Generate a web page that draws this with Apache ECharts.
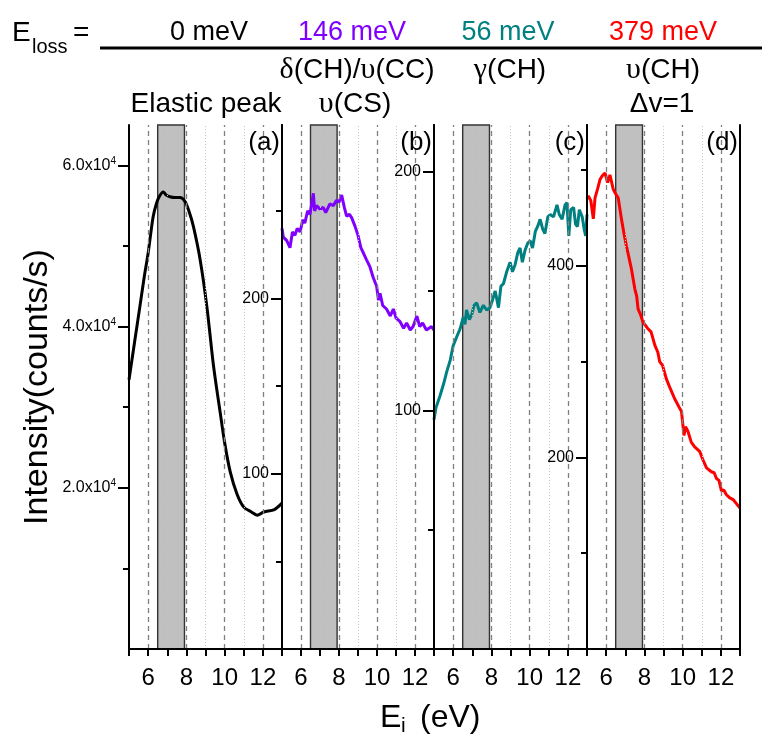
<!DOCTYPE html>
<html>
<head>
<meta charset="utf-8">
<script src="https://cdn.jsdelivr.net/npm/echarts@6/dist/echarts.min.js"></script>
<style>
  html, body { margin: 0; padding: 0; background: #fff; }
  #chart { width: 762px; height: 738px; }
</style>
</head>
<body>
<div id="chart"></div>
<script>
// incident energy Ei (eV) and intensity (counts/s)
const elasticE = [5.0, 5.3, 5.57, 5.8, 6.0, 6.26, 6.44, 6.6, 6.79, 6.95, 7.14, 7.4, 7.67, 7.93, 8.15, 8.37, 8.72, 9.07, 9.42, 9.77, 10.0, 10.3, 10.65, 11.0, 11.4, 11.7, 12.05, 12.6, 13.0];
const elasticI = [33400, 38200, 42500, 46200, 49100, 53600, 55300, 56200, 56700, 56300, 56100, 56000, 56000, 55500, 54200, 52400, 48300, 42500, 35100, 29300, 25600, 21900, 19200, 17600, 17000, 16600, 17000, 17300, 18100];

const ccE = [5.0, 5.07, 5.25, 5.42, 5.55, 5.68, 5.8, 5.95, 6.1, 6.2, 6.35, 6.47, 6.58, 6.65, 6.72, 6.82, 7.0, 7.17, 7.3, 7.52, 7.7, 7.87, 8.0, 8.14, 8.28, 8.4, 8.55, 8.67, 8.85, 9.0, 9.15, 9.28, 9.45, 9.63, 9.8, 9.98, 10.08, 10.16, 10.3, 10.5, 10.7, 10.86, 11.0, 11.2, 11.4, 11.56, 11.75, 11.9, 12.1, 12.25, 12.4, 12.6, 12.87, 13.0];
const ccI = [240, 235, 233, 229, 238, 236, 240, 238, 245, 243, 250, 248, 255, 260, 250, 253, 251, 252, 249, 254, 253, 256, 255, 259, 252, 247, 248, 246, 241, 236, 229, 226, 222, 218, 212, 207, 199, 203, 196, 194, 190, 194, 189, 187, 183, 186, 182, 184, 190, 184, 186, 182, 184, 182];

const gammaE = [5.0, 5.1, 5.31, 5.5, 5.66, 5.85, 6.0, 6.2, 6.36, 6.53, 6.62, 6.7, 6.85, 6.97, 7.1, 7.23, 7.4, 7.58, 7.75, 7.93, 8.05, 8.2, 8.37, 8.5, 8.63, 8.8, 8.98, 9.1, 9.24, 9.38, 9.5, 9.62, 9.76, 9.9, 10.03, 10.15, 10.3, 10.42, 10.55, 10.68, 10.8, 10.95, 11.08, 11.25, 11.43, 11.55, 11.7, 11.85, 11.95, 12.05, 12.15, 12.3, 12.4, 12.5, 12.6, 12.75, 12.85, 12.93, 13.0];
const gammaI = [96, 101, 106, 111, 116, 121, 127, 131, 134, 139, 136, 142, 138, 140, 144, 145, 141, 144, 142, 143, 146, 150, 143, 152, 153, 158, 162, 158, 161, 166, 168, 162, 167, 170, 171, 168, 175, 177, 180, 176, 174, 181, 182, 181, 186, 182, 180, 186, 187, 173, 184, 185, 178, 177, 184, 181, 176, 173, 182];

const chE = [5.0, 5.07, 5.2, 5.33, 5.42, 5.55, 5.68, 5.8, 5.94, 6.08, 6.2, 6.37, 6.5, 6.63, 6.8, 6.95, 7.06, 7.2, 7.32, 7.5, 7.6, 7.67, 7.8, 7.93, 8.05, 8.2, 8.35, 8.55, 8.7, 8.8, 8.95, 9.15, 9.35, 9.59, 9.8, 9.94, 10.07, 10.15, 10.28, 10.45, 10.63, 10.9, 11.05, 11.25, 11.5, 11.65, 11.77, 11.9, 12.03, 12.15, 12.29, 12.45, 12.64, 12.8, 13.0];
const chI = [470, 473, 468, 449, 471, 480, 490, 494, 497, 487, 495, 480, 475, 471, 449, 432, 421, 408, 397, 376, 368, 355, 349, 341, 338, 334, 331, 317, 310, 300, 296, 282, 272, 261, 253, 248, 223, 232, 227, 216, 211, 206, 198, 189, 185, 184, 178, 176, 165, 166, 161, 158, 156, 152, 147];

// x axis: 5..13 eV, labels on even values, grid lines
const xLabels = [6, 8, 10, 12];
const dashedAt = [6, 8, 10, 12];
const dottedAt = [7, 9, 11];
const band = [6.5, 7.9];

// y axis ticks per panel
const elasticMajor = [20000, 40000, 60000];
const elasticMinor = [10000, 30000, 50000];
const ccMajor = [100, 200];
const ccMinor = [50, 150, 250];
const gammaMajor = [100, 200];
const gammaMinor = [50, 150];
const chMajor = [200, 400];
const chMinor = [100, 300, 500];

const panels = [
  { E: elasticE, I: elasticI, yMax: 65000, major: elasticMajor, minor: elasticMinor, color: '#000000', tag: '(a)', smooth: 0.3 },
  { E: ccE, I: ccI, yMax: 299, major: ccMajor, minor: ccMinor, color: '#8000ff', tag: '(b)', smooth: false },
  { E: gammaE, I: gammaI, yMax: 219.5, major: gammaMajor, minor: gammaMinor, color: '#008080', tag: '(c)', smooth: false },
  { E: chE, I: chI, yMax: 547, major: chMajor, minor: chMinor, color: '#ff0000', tag: '(d)', smooth: false }
];

const lefts = [129, 282, 434, 587];
const widths = [153, 152, 153, 153];
const TOP = 125;
const HEIGHT = 524;

const sans = 'Liberation Sans, Arial';
const serif = 'Liberation Serif, Times New Roman';

const grid = [];
const xAxis = [];
const yAxis = [];
const series = [];
const graphic = [];

const sciLabel = (v) => `{n|${(v / 10000).toFixed(1)}x10}{s|4}`;

panels.forEach((p, i) => {
  grid.push({ left: lefts[i], top: TOP, width: widths[i], height: HEIGHT });

  // bottom axis with ticks and labels
  xAxis.push({
    type: 'value', gridIndex: i, min: 5, max: 13, interval: 1, position: 'bottom', z: 10,
    axisLine: { show: true, lineStyle: { color: '#000', width: 2 } },
    axisTick: { show: true, length: 7, lineStyle: { color: '#000', width: 2 } },
    axisLabel: { customValues: xLabels, margin: 17, fontSize: 24, color: '#000', fontFamily: sans },
    splitLine: { show: false }
  });
  // top border
  xAxis.push({
    type: 'value', gridIndex: i, min: 5, max: 13, position: 'top', z: 10,
    axisLine: { show: true, lineStyle: { color: '#000', width: 2 } },
    axisTick: { show: false }, axisLabel: { show: false }, splitLine: { show: false }
  });

  // left axis: major ticks + labels
  yAxis.push({
    type: 'value', gridIndex: i, min: 0, max: p.yMax, position: 'left', z: 10,
    axisLine: { show: true, lineStyle: { color: '#000', width: 2 } },
    axisTick: { show: true, customValues: p.major, length: 11, lineStyle: { color: '#000', width: 2 } },
    axisLabel: {
      customValues: p.major, margin: 13, fontSize: 16, color: '#000', fontFamily: sans,
      formatter: i === 0 ? sciLabel : undefined,
      rich: {
        n: { fontSize: 16, color: '#000', fontFamily: sans },
        s: { fontSize: 10, color: '#000', fontFamily: sans, padding: [0, 0, 9, 0] }
      }
    },
    splitLine: { show: false },
    name: i === 0 ? 'Intensity(counts/s)' : '',
    nameLocation: 'middle',
    nameGap: 74,
    nameTextStyle: { fontSize: 34, color: '#000', fontFamily: sans }
  });
  // left axis: minor ticks
  yAxis.push({
    type: 'value', gridIndex: i, min: 0, max: p.yMax, position: 'left', z: 10,
    axisLine: { show: false },
    axisTick: { show: true, customValues: p.minor, length: 6, lineStyle: { color: '#000', width: 2 } },
    axisLabel: { show: false }, splitLine: { show: false }
  });
  // right border
  yAxis.push({
    type: 'value', gridIndex: i, min: 0, max: p.yMax, position: 'right', z: 10,
    axisLine: { show: true, lineStyle: { color: '#000', width: 2 } },
    axisTick: { show: false }, axisLabel: { show: false }, splitLine: { show: false }
  });

  const xi = i * 2;
  const yi = i * 3;

  series.push({
    type: 'line', xAxisIndex: xi, yAxisIndex: yi, data: [], z: 1, silent: true,
    markLine: {
      silent: true, symbol: 'none', animation: false, label: { show: false },
      data: dashedAt.map(v => ({ xAxis: v, lineStyle: { color: '#808080', type: [5, 4], width: 1.3 } }))
        .concat(dottedAt.map(v => ({ xAxis: v, lineStyle: { color: '#c4c4c4', type: [1, 2], width: 1 } })))
    }
  });
  series.push({
    type: 'line', xAxisIndex: xi, yAxisIndex: yi, data: [], z: 2, silent: true,
    markArea: {
      silent: true, animation: false, label: { show: false },
      itemStyle: { color: '#c0c0c0', borderColor: '#333333', borderWidth: 1.4 },
      data: [[{ xAxis: band[0] }, { xAxis: band[1] }]]
    }
  });
  series.push({
    type: 'line', xAxisIndex: xi, yAxisIndex: yi, z: 3,
    data: p.E.map((e, k) => [e, p.I[k]]),
    showSymbol: false, smooth: p.smooth,
    lineStyle: { color: p.color, width: 3 },
    itemStyle: { color: p.color }
  });

  graphic.push({
    type: 'text', x: lefts[i] + widths[i] - 2, y: TOP + 5, z: 20,
    style: { text: p.tag, align: 'right', verticalAlign: 'top', fontSize: 26, fill: '#000', fontFamily: sans }
  });
});

const headRich = {
  t: { fontSize: 28, fontFamily: sans, fill: '#000' },
  g: { fontSize: 30, fontFamily: serif, fill: '#000' }
};
const header = (x, y, text, fill, size) => ({
  type: 'text', x, y, z: 20,
  style: { text, align: 'center', verticalAlign: 'middle', fontSize: size || 28, fontFamily: sans, fill: fill || '#000', rich: headRich }
});

graphic.push(
  { type: 'text', x: 12, y: 33, style: { text: 'E', align: 'left', verticalAlign: 'middle', fontSize: 28, fontFamily: sans, fill: '#000' } },
  { type: 'text', x: 32, y: 47, style: { text: 'loss', align: 'left', verticalAlign: 'middle', fontSize: 20, fontFamily: sans, fill: '#000' } },
  { type: 'text', x: 73, y: 33, style: { text: '=', align: 'left', verticalAlign: 'middle', fontSize: 28, fontFamily: sans, fill: '#000' } },
  { type: 'line', shape: { x1: 100, y1: 48, x2: 762, y2: 48 }, style: { stroke: '#000', lineWidth: 3 } },
  header(209, 33, '0 meV', '#000', 27),
  header(352, 33, '146 meV', '#8000ff', 27),
  header(508, 33, '56 meV', '#008080', 27),
  header(663, 33, '379 meV', '#ff0000', 27),
  header(357, 70, '{g|δ}{t|(CH)/}{g|υ}{t|(CC)}'),
  header(510, 70, '{g|γ}{t|(CH)}'),
  header(663, 70, '{g|υ}{t|(CH)}'),
  header(206, 104, 'Elastic peak'),
  header(355, 104, '{g|υ}{t|(CS)}'),
  header(662, 104, '{t|Δv=1}'),
  { type: 'text', x: 380, y: 718, style: { text: 'E', align: 'left', verticalAlign: 'middle', fontSize: 32, fontFamily: sans, fill: '#000' } },
  { type: 'text', x: 401, y: 726, style: { text: 'i', align: 'left', verticalAlign: 'middle', fontSize: 21, fontFamily: sans, fill: '#000' } },
  { type: 'text', x: 420, y: 718, style: { text: '(eV)', align: 'left', verticalAlign: 'middle', fontSize: 32, fontFamily: sans, fill: '#000' } }
);

const chart = echarts.init(document.getElementById('chart'));
chart.setOption({
  animation: false,
  backgroundColor: '#fff',
  grid, xAxis, yAxis, series, graphic
});
</script>
</body>
</html>
